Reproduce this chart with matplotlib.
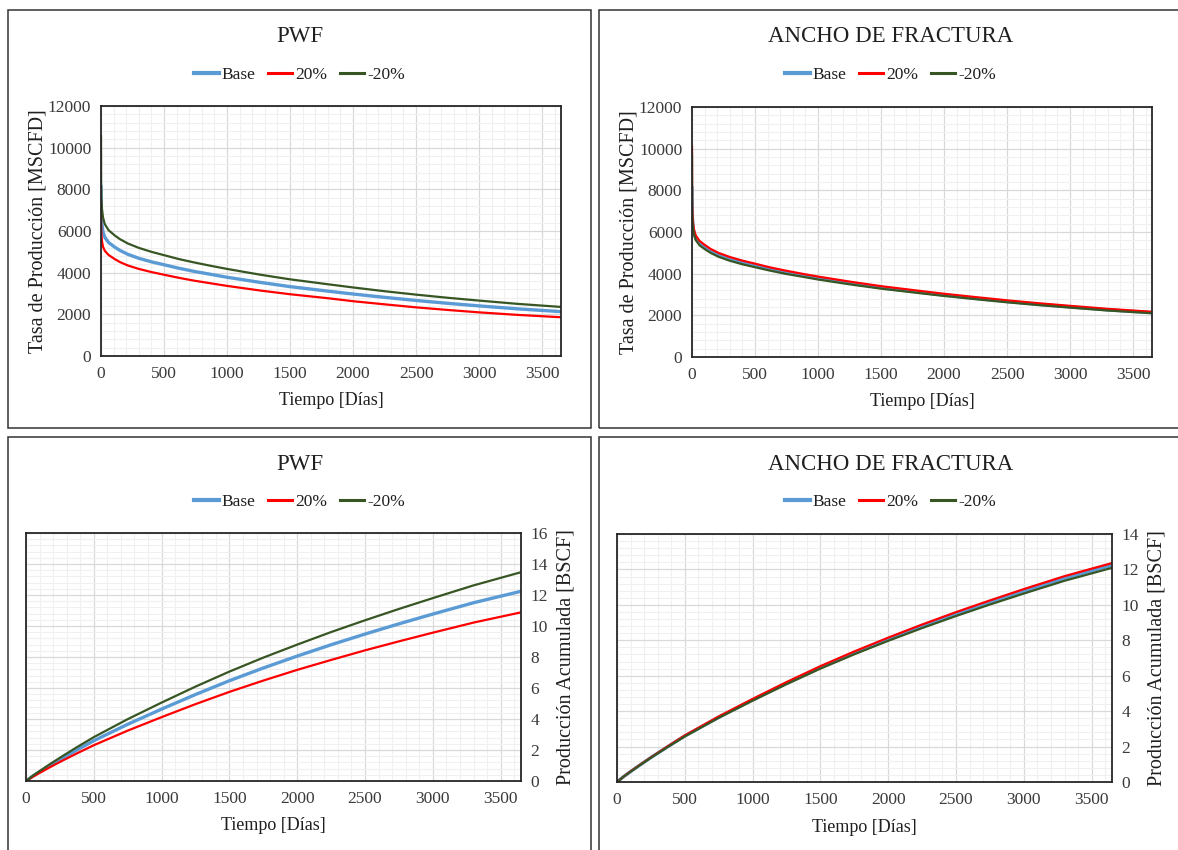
"""
Sensibilidad PWF / ancho de fractura: tasa de produccion y produccion acumulada.
"""
import matplotlib
matplotlib.use("Agg")
import matplotlib.pyplot as plt
from matplotlib.patches import Rectangle
from matplotlib.lines import Line2D
from matplotlib.ticker import MultipleLocator

plt.rcParams["font.family"] = ["Liberation Serif", "DejaVu Serif"]

W, H = 1178, 850

# ── Tasa de produccion [MSCFD] vs tiempo [dias] ─────────────────────
T_RATE = [0, 1, 3, 8, 16, 30, 60, 108, 150, 213, 300, 400, 500, 620, 740,
          870, 1000, 1266, 1500, 1805, 2000, 2250, 2500, 2750, 3000, 3300, 3650]

RATE_BASE = [8200, 7200, 6700, 6300, 5950, 5700, 5450, 5230, 5070, 4880,
             4690, 4520, 4380, 4210, 4060, 3920, 3780, 3530, 3330, 3110,
             2975, 2815, 2665, 2530, 2405, 2265, 2130]

PWF_RATE_UP = [7000, 6300, 5850, 5500, 5240, 5050, 4850, 4655, 4510, 4345,
               4180, 4030, 3900, 3750, 3615, 3490, 3365, 3140, 2965, 2770,
               2630, 2480, 2335, 2210, 2095, 1975, 1860]
PWF_RATE_DOWN = [10600, 8300, 7600, 7050, 6650, 6330, 6040, 5790, 5610, 5400,
                 5190, 5000, 4840, 4650, 4490, 4330, 4180, 3900, 3680, 3440,
                 3290, 3110, 2945, 2795, 2660, 2505, 2355]

ANCHO_RATE_UP = [10150, 7500, 6900, 6450, 6100, 5830, 5570, 5350, 5180, 4990,
                 4800, 4625, 4480, 4300, 4150, 4000, 3860, 3605, 3400, 3175,
                 3035, 2875, 2720, 2580, 2455, 2310, 2170]
ANCHO_RATE_DOWN = [9700, 7000, 6550, 6180, 5860, 5610, 5360, 5150, 4990, 4805,
                   4620, 4450, 4310, 4145, 3995, 3860, 3720, 3475, 3280, 3065,
                   2930, 2775, 2625, 2490, 2370, 2230, 2100]

# ── Produccion acumulada [BSCF] vs tiempo [dias] ────────────────────
T_CUM = [0, 50, 100, 175, 250, 375, 500, 750, 1000, 1250, 1500, 1750, 2000,
         2250, 2500, 2750, 3000, 3300, 3650]

CUM_BASE = [0, 0.31, 0.59, 0.99, 1.38, 2.00, 2.60, 3.66, 4.64, 5.58, 6.47,
            7.29, 8.06, 8.79, 9.48, 10.14, 10.77, 11.50, 12.24]

PWF_CUM_UP = [0, 0.27, 0.52, 0.88, 1.23, 1.78, 2.31, 3.25, 4.12, 4.96, 5.75,
              6.48, 7.17, 7.81, 8.43, 9.01, 9.57, 10.22, 10.88]
PWF_CUM_DOWN = [0, 0.34, 0.64, 1.08, 1.50, 2.18, 2.83, 3.99, 5.06, 6.09, 7.06,
                7.96, 8.80, 9.61, 10.37, 11.10, 11.80, 12.62, 13.47]

ANCHO_CUM_UP = [0, 0.31, 0.60, 1.00, 1.39, 2.02, 2.63, 3.70, 4.69, 5.64, 6.54,
                7.37, 8.15, 8.89, 9.59, 10.25, 10.89, 11.62, 12.36]
ANCHO_CUM_DOWN = [0, 0.31, 0.58, 0.98, 1.37, 1.98, 2.57, 3.62, 4.59, 5.52,
                  6.40, 7.21, 7.97, 8.69, 9.37, 10.02, 10.64, 11.36, 12.09]

SERIES = ["Base", "20%", "-20%"]
COLORS = {"Base": "#5B9BD5", "20%": "#FF0000", "-20%": "#375623"}
WIDTHS = {"Base": 2.4, "20%": 1.6, "-20%": 1.6}

TXT = "#1f1f1f"
TICK = "#3a3a3a"


def fig_rect(l, t, r, b):
    return [l / W, 1 - b / H, (r - l) / W, (b - t) / H]


def panel(fig, box, axpx, title, t, data, ylim, ystep, ylabel, right):
    l, tp, r, b = box
    fig.add_artist(Rectangle((l / W, 1 - b / H), (r - l) / W, (b - tp) / H,
                             transform=fig.transFigure, fill=False,
                             ec="#333333", lw=1.1))

    ax = fig.add_axes(fig_rect(*axpx))
    for name in SERIES:
        ax.plot(t, data[name], color=COLORS[name], lw=WIDTHS[name],
                solid_capstyle="butt", solid_joinstyle="round")

    ax.set_xlim(0, 3650)
    ax.set_ylim(*ylim)
    ax.xaxis.set_major_locator(MultipleLocator(500))
    ax.xaxis.set_minor_locator(MultipleLocator(100))
    ax.yaxis.set_major_locator(MultipleLocator(ystep))
    ax.yaxis.set_minor_locator(MultipleLocator(ystep / 5))
    ax.grid(which="major", color="#d9d9d9", lw=0.9)
    ax.grid(which="minor", color="#f0f0f0", lw=0.8)
    ax.set_axisbelow(True)
    ax.tick_params(which="both", length=0, labelsize=12.5,
                   labelcolor=TICK, pad=7)
    if right:
        ax.yaxis.tick_right()
    for sp in ax.spines.values():
        sp.set_color("#262626")
        sp.set_linewidth(1.3)

    cx = (l + r) / 2
    fig.text(cx / W, 1 - (tp + 27) / H, title, ha="center",
             va="center", fontsize=16.5, color=TXT)

    handles = [Line2D([0], [0], color=COLORS[n], lw=WIDTHS[n] + 0.6)
               for n in SERIES]
    fig.legend(handles, SERIES, loc="center", ncol=3, frameon=False,
               bbox_to_anchor=(cx / W, 1 - (tp + 65) / H), fontsize=12.5,
               handlelength=1.4, handletextpad=0.15, columnspacing=0.75,
               labelcolor=TXT)

    axc = (axpx[0] + axpx[2]) / 2
    fig.text(axc / W, 1 - (axpx[3] + 45) / H, "Tiempo [Días]",
             ha="center", va="center", fontsize=13, color=TXT)

    ymid = (axpx[1] + axpx[3]) / 2
    yx = axpx[2] + 45 if right else axpx[0] - 63
    fig.text(yx / W, 1 - ymid / H, ylabel, rotation=90, ha="center",
             va="center", fontsize=14.5, color=TXT)
    return ax


def main():
    fig = plt.figure(figsize=(W / 100, H / 100), dpi=100)

    pwf_rate = {"Base": RATE_BASE, "20%": PWF_RATE_UP, "-20%": PWF_RATE_DOWN}
    anc_rate = {"Base": RATE_BASE, "20%": ANCHO_RATE_UP, "-20%": ANCHO_RATE_DOWN}
    pwf_cum = {"Base": CUM_BASE, "20%": PWF_CUM_UP, "-20%": PWF_CUM_DOWN}
    anc_cum = {"Base": CUM_BASE, "20%": ANCHO_CUM_UP, "-20%": ANCHO_CUM_DOWN}

    rate_lbl = "Tasa de Producción [MSCFD]"
    cum_lbl = "Producción Acumulada [BSCF]"

    panel(fig, (8, 10, 591, 428), (101, 106, 561, 356), "PWF",
          T_RATE, pwf_rate, (0, 12000), 2000, rate_lbl, False)
    panel(fig, (599, 10, 1182, 428), (692, 107, 1152, 357), "ANCHO DE FRACTURA",
          T_RATE, anc_rate, (0, 12000), 2000, rate_lbl, False)
    panel(fig, (8, 437, 591, 855), (26, 533, 521, 781), "PWF",
          T_CUM, pwf_cum, (0, 16), 2, cum_lbl, True)
    panel(fig, (599, 437, 1182, 855), (617, 534, 1112, 782), "ANCHO DE FRACTURA",
          T_CUM, anc_cum, (0, 14), 2, cum_lbl, True)

    fig.savefig("out.png", dpi=100, facecolor="white")


if __name__ == "__main__":
    main()
